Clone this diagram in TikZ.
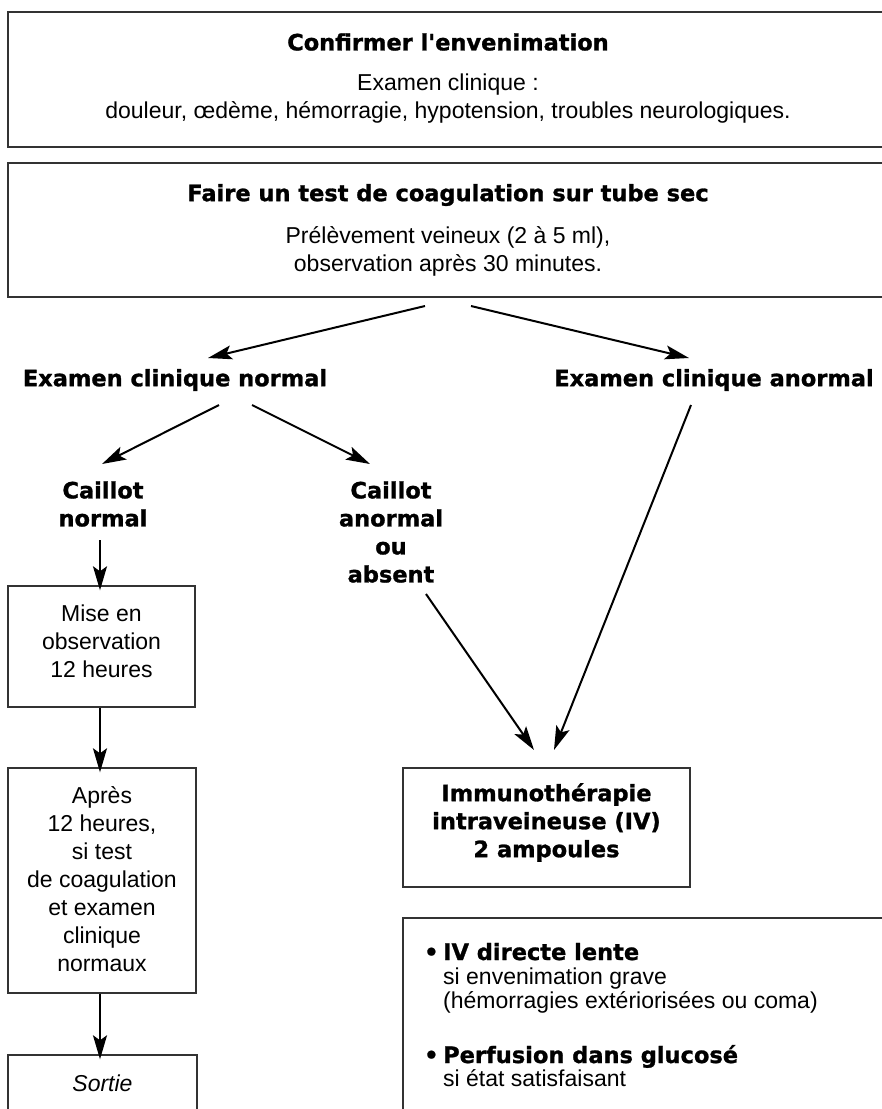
\documentclass[tikz,border=0pt]{standalone}
\usepackage{fontspec}
\setmainfont{Liberation Sans}
\newfontfamily\heavy{DejaVu Sans}[BoldFeatures={FakeBold=1.2}]
\usetikzlibrary{arrows.meta,calc}
\begin{document}
\begin{tikzpicture}[x=1pt,y=-1pt,
  box/.style={draw=black!80, line width=1.4pt, inner sep=0pt},
  reg/.style={font=\fontsize{23}{28}\selectfont, inner sep=0pt, align=center},
  hd/.style={font=\heavy\bfseries\fontsize{22.5}{28}\selectfont, inner sep=0pt, align=center},
  arr/.style={draw=black, line width=2pt, -{Stealth[length=24pt,width=14pt,inset=5pt]}}]
\useasboundingbox (0,0) rectangle (882,1109);
\clip (0,0) rectangle (882,1109);
% boxes
\node[box, minimum width=880pt, minimum height=135pt] (box1) at (448,79.5) {};
\node[box, minimum width=880pt, minimum height=134pt] (box2) at (448,230) {};
\node[box, minimum width=187pt, minimum height=121pt] (mise) at (101.5,646.5) {};
\node[box, minimum width=188pt, minimum height=225pt] (apres) at (102,880.5) {};
\node[box, minimum width=189pt, minimum height=80pt] (sortie) at (102.5,1095) {};
\node[box, minimum width=287pt, minimum height=119pt] (immuno) at (546.5,827.5) {};
\node[box, minimum width=497pt, minimum height=212pt] (modes) at (651.5,1024) {};
% texts
\node[hd] (t1) at (448,42) {Confirmer l'envenimation};
\node[reg] (t1b) at (448,99) {Examen clinique :\\douleur, œdème, hémorragie, hypotension, troubles neurologiques.};
\node[hd] (t2) at (448,195) {Faire un test de coagulation sur tube sec};
\node[reg] (t2b) at (448,251) {Prélèvement veineux (2 à 5 ml),\\observation après 30 minutes.};
\node[hd] (ecn) at (175,380) {Examen clinique normal};
\node[hd] (eca) at (714,380) {Examen clinique anormal};
\node[hd] (cn) at (103,504) {Caillot\\normal};
\node[hd] (ca) at (391,532) {Caillot\\anormal\\ou\\absent};
\node[reg] (tmise) at (101.5,641.5) {Mise en\\observation\\12 heures};
\node[reg] (tapres) at (102,879) {Après\\12 heures,\\si test\\de coagulation\\et examen\\clinique\\normaux};
\node[reg, font=\itshape\fontsize{23}{28}\selectfont] (tsortie) at (102.5,1083) {Sortie};
\node[hd] (timmuno) at (546.5,822.5) {Immunothérapie\\intraveineuse (IV)\\2 ampoules};
\node[hd, anchor=base west] (m1) at (424,960) {\makebox[19pt][l]{•}IV directe lente};
\node[reg, anchor=base west] (m1a) at (443,984) {si envenimation grave};
\node[reg, anchor=base west] (m1b) at (443,1008) {(hémorragies extériorisées ou coma)};
\node[hd, anchor=base west] (m2) at (424,1063) {\makebox[19pt][l]{•}Perfusion dans glucosé};
\node[reg, anchor=base west] (m2a) at (443,1086) {si état satisfaisant};
% connectors
\draw[arr] ($(box2.center)+(-23,76)$) -- ($(ecn.center)+(33,-22)$);
\draw[arr] ($(box2.center)+(23,76)$) -- ($(eca.center)+(-25,-22)$);
\draw[arr] ($(ecn.center)+(44,25)$) -- ($(cn.center)+(-1,-40)$);
\draw[arr] ($(ecn.center)+(77,25)$) -- ($(ca.center)+(-21,-68)$);
\draw[arr] ($(eca.center)+(-23,25)$) -- ($(immuno.center)+(7.5,-77.5)$);
\draw[arr] ($(ca.center)+(35,62)$) -- ($(immuno.center)+(-12.5,-77.5)$);
\draw[arr] ($(cn.center)+(-3,36)$) -- ($(mise.north)+(-1.5,5)$);
\draw[arr] ($(mise.south)+(-1.5,0)$) -- ($(apres.north)+(-2,5)$);
\draw[arr] ($(apres.south)+(-2,0)$) -- ($(sortie.north)+(-2.5,5)$);
\end{tikzpicture}
\end{document}
